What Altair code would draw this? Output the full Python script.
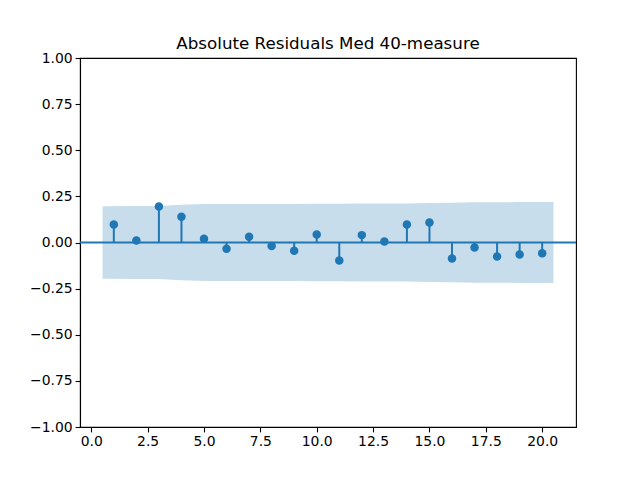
import pandas as pd
import altair as alt

lags = list(range(1, 21))
acf_vals = [0.098, 0.011, 0.195, 0.139, 0.020, -0.034, 0.031, -0.019, -0.045, 0.044,
            -0.097, 0.040, 0.005, 0.098, 0.108, -0.087, -0.027, -0.076, -0.065, -0.058]

# confidence band (half width) per lag, first and last lag widened by 0.5
band_x = [0.5, 2, 3, 4, 5, 6, 7, 8, 9, 10, 11, 12, 13, 14, 15, 16, 17, 18, 19, 20.5]
band_hw = [0.196, 0.198, 0.198, 0.205, 0.209, 0.209, 0.209, 0.209, 0.209, 0.210,
           0.210, 0.212, 0.212, 0.212, 0.214, 0.216, 0.218, 0.218, 0.219, 0.220]

x_ticks = [0, 2.5, 5, 7.5, 10, 12.5, 15, 17.5, 20]
y_ticks = [-1, -0.75, -0.5, -0.25, 0, 0.25, 0.5, 0.75, 1]

blue = "#1f77b4"
font = "DejaVu Sans"

df = pd.DataFrame({"lag": lags, "acf": acf_vals, "zero": 0.0})
band = pd.DataFrame({"x": band_x, "lo": [-h for h in band_hw], "hi": band_hw})
zero_line = pd.DataFrame({"zero": [0.0]})

x_scale = alt.Scale(domain=[-0.5, 21.5], nice=False, zero=False)
y_scale = alt.Scale(domain=[-1, 1], nice=False)

x_axis = alt.Axis(values=x_ticks, format=".1f", title=None, grid=False,
                  labelExpr="replace(datum.label, '-', '\u2212')")
y_axis = alt.Axis(values=y_ticks, format=".2f", title=None, grid=False,
                  labelExpr="replace(datum.label, '-', '\u2212')")

area = alt.Chart(band).mark_area(color=blue, opacity=0.25).encode(
    x=alt.X("x:Q", scale=x_scale, axis=x_axis),
    y=alt.Y("lo:Q", scale=y_scale, axis=y_axis),
    y2="hi:Q",
)

hline = alt.Chart(zero_line).mark_rule(color=blue, strokeWidth=2).encode(
    x=alt.value(0), x2=alt.value(496), y=alt.Y("zero:Q", scale=y_scale)
)

stems = alt.Chart(df).mark_rule(color=blue, strokeWidth=2).encode(
    x=alt.X("lag:Q", scale=x_scale),
    y=alt.Y("zero:Q", scale=y_scale),
    y2="acf:Q",
)

dots = alt.Chart(df).mark_circle(color=blue, opacity=1, size=72).encode(
    x=alt.X("lag:Q", scale=x_scale),
    y=alt.Y("acf:Q", scale=y_scale),
)

chart = alt.layer(area, hline, stems, dots).properties(
    width=496,
    height=369,
    title=alt.Title("Absolute Residuals Med 40-measure", fontSize=16.7,
                    font=font, fontWeight="normal", color="black", offset=-2),
    autosize=alt.AutoSizeParams(type="none"),
    padding={"left": 72, "top": 50, "right": 56, "bottom": 45},
).configure_view(
    stroke="black", strokeWidth=1.1
).configure_axis(
    labelFont=font, labelFontSize=13.9, labelColor="black",
    tickColor="black", tickSize=4.9, tickWidth=1.1,
    domainColor="black", domainWidth=1.1, labelPadding=3,
)

chart.save("out.html", embed_options={"renderer": "svg", "actions": False})
